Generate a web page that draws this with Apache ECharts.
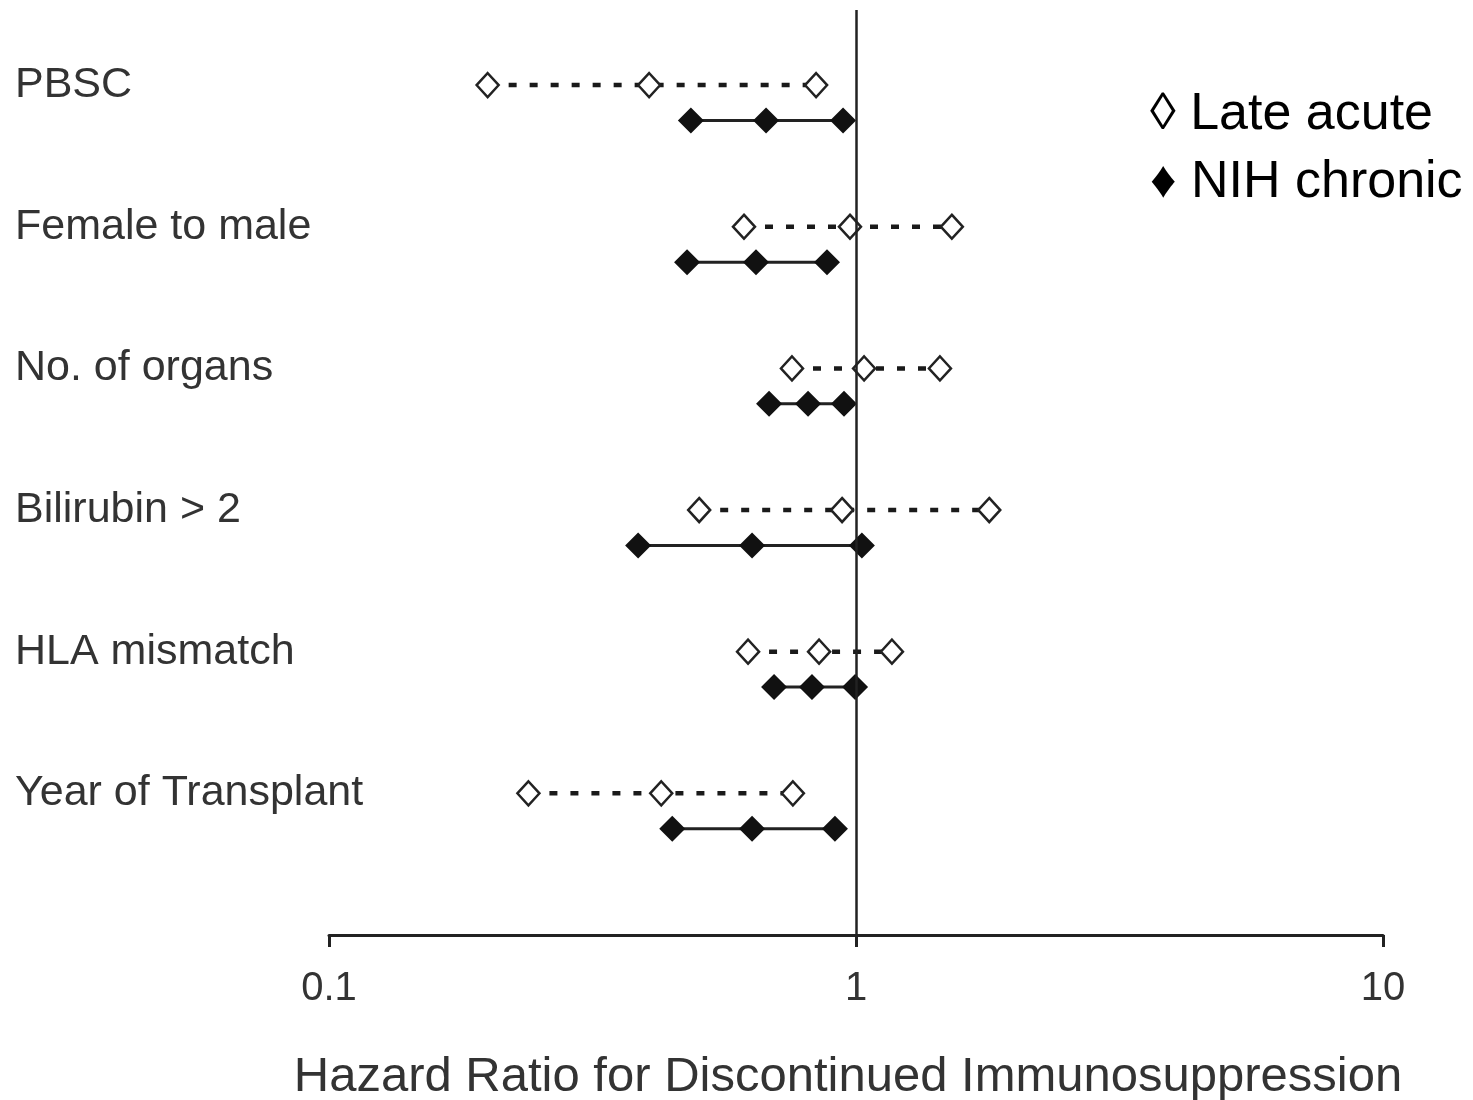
<!DOCTYPE html>
<html>
<head>
<meta charset="utf-8">
<script src="https://cdn.jsdelivr.net/npm/echarts@6/dist/echarts.min.js"></script>
<style>
  html, body { margin: 0; padding: 0; background: #fff; }
  #chart { width: 1473px; height: 1100px; }
</style>
</head>
<body>
<div id="chart"></div>
<script>
// Risk factors, top to bottom
const categories = ['PBSC', 'Female to male', 'No. of organs', 'Bilirubin > 2', 'HLA mismatch', 'Year of Transplant'];

// Hazard ratios: [lower CI, estimate, upper CI]
const lateAcute = [
  [0.20, 0.405, 0.84],
  [0.613, 0.974, 1.52],
  [0.756, 1.036, 1.443],
  [0.504, 0.941, 1.79],
  [0.624, 0.851, 1.17],
  [0.239, 0.427, 0.759]
];
const nihChronic = [
  [0.486, 0.675, 0.945],
  [0.478, 0.646, 0.881],
  [0.684, 0.811, 0.949],
  [0.386, 0.635, 1.026],
  [0.699, 0.825, 0.996],
  [0.448, 0.635, 0.912]
];

const xTicks = [0.1, 1, 10];
const seriesNames = ['Late acute', 'NIH chronic'];
const legendGlyphs = { 'Late acute': '\u25CA', 'NIH chronic': '\u2666' };

// Row offset of the NIH chronic interval below each category line
const chronicOffset = 0.25;

function rowPoints(rows, offset) {
  const out = [];
  rows.forEach((r, i) => {
    r.forEach(v => out.push([v, i + offset]));
    out.push('-');
  });
  return out;
}

const FONT = '"Liberation Sans", Arial, Helvetica, sans-serif';
const chart = echarts.init(document.getElementById('chart'), null, { renderer: 'canvas' });

chart.setOption({
  animation: false,
  backgroundColor: '#fff',
  grid: { left: 329, right: 90, top: 10, bottom: 165, containLabel: false, outerBoundsMode: 'none' },
  legend: {
    data: seriesNames,
    orient: 'vertical',
    left: 1140,
    top: 84,
    icon: 'none',
    itemWidth: 0,
    itemHeight: 0,
    itemGap: 16,
    selectedMode: false,
    formatter: name => legendGlyphs[name] + ' ' + name,
    textStyle: { fontFamily: FONT, fontSize: 52, color: '#000', padding: 0 }
  },
  xAxis: {
    type: 'log',
    logBase: 10,
    min: xTicks[0],
    max: xTicks[xTicks.length - 1],
    name: 'Hazard Ratio for Discontinued Immunosuppression',
    nameLocation: 'middle',
    nameGap: 118,
    nameTextStyle: { fontFamily: FONT, fontSize: 49, color: '#333', padding: [0, 16, 0, 0] },
    axisLine: { show: true, onZero: false, lineStyle: { color: '#222', width: 3 } },
    axisTick: { show: true, length: 12, lineStyle: { color: '#222', width: 3 } },
    minorTick: { show: false },
    splitLine: { show: false },
    axisLabel: {
      fontFamily: FONT, fontSize: 40, color: '#333', margin: 34,
      formatter: v => String(Math.round(v * 1000) / 1000)
    }
  },
  yAxis: {
    type: 'value',
    inverse: true,
    min: -0.53,
    max: 6,
    axisLine: { show: false },
    axisTick: { show: false },
    splitLine: { show: false },
    axisLabel: {
      customValues: categories.map((_, i) => i),
      formatter: v => categories[Math.round(v)] || '',
      fontFamily: FONT, fontSize: 43, color: '#333',
      align: 'left', margin: 314, padding: [12, 0, 0, 0]
    }
  },
  series: [
    {
      name: seriesNames[0],
      type: 'line',
      data: rowPoints(lateAcute, 0),
      symbol: 'diamond',
      symbolSize: [22, 24],
      showAllSymbol: true,
      connectNulls: false,
      itemStyle: { color: '#fff', borderColor: '#222', borderWidth: 2.5 },
      lineStyle: { color: '#1a1a1a', width: 4.5, type: [8, 13] },
      z: 3,
      markLine: {
        silent: true,
        symbol: ['none', 'none'],
        label: { show: false },
        lineStyle: { color: '#222', width: 2.5, type: 'solid' },
        data: [{ xAxis: 1 }],
        z: 4
      }
    },
    {
      name: seriesNames[1],
      type: 'line',
      data: rowPoints(nihChronic, chronicOffset),
      symbol: 'diamond',
      symbolSize: [26, 26],
      showAllSymbol: true,
      connectNulls: false,
      itemStyle: { color: '#111', borderColor: '#111', borderWidth: 0 },
      lineStyle: { color: '#222', width: 3, type: 'solid' },
      z: 3
    }
  ]
});
</script>
</body>
</html>
